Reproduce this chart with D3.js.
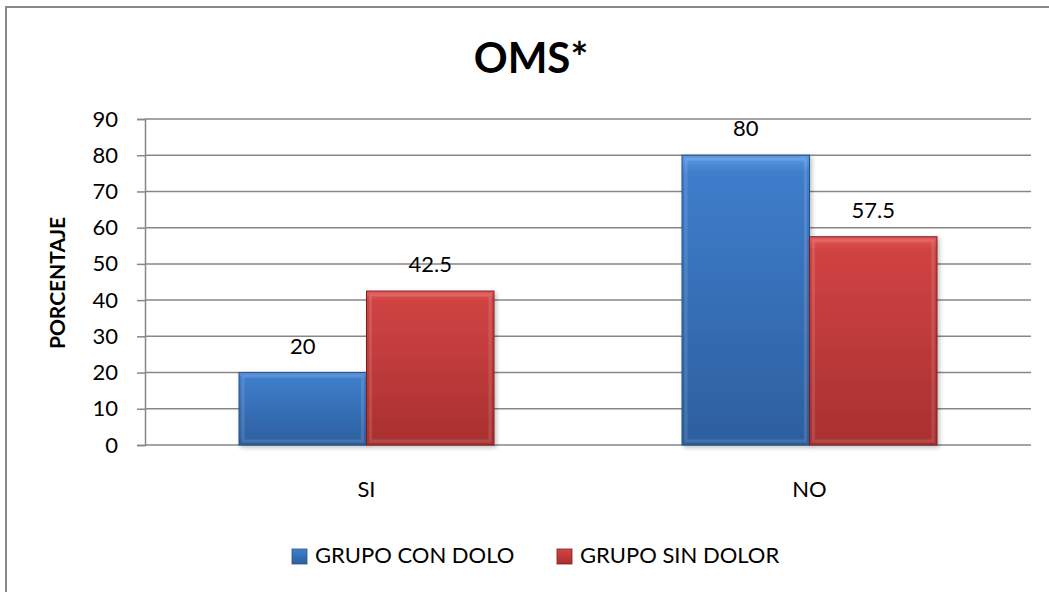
<!DOCTYPE html>
<html>
<head>
<meta charset="utf-8">
<script src="https://cdn.jsdelivr.net/npm/d3@7"></script>
<style>
  body { margin: 0; background: #fff; }
  svg { display: block; font-family: Lato, "Open Sans", sans-serif; }
</style>
</head>
<body>
<div id="chart"></div>
<script>
const categories = ["SI", "NO"];
const seriesNames = ["GRUPO CON DOLO", "GRUPO SIN DOLOR"];
const conDolo = [20, 80];
const sinDolor = [42.5, 57.5];
const yTicks = [0, 10, 20, 30, 40, 50, 60, 70, 80, 90];

const width = 1049, height = 592;
const plotLeft = 145, plotRight = 1031, plotTop = 119, plotBottom = 445;

const svg = d3.select("#chart").append("svg")
    .attr("width", width)
    .attr("height", height);

const defs = svg.append("defs");
const palette = [
  { id: "gBlue", light: "#5c9be3", mid: "#3f7dcb", dark: "#2c5f9f", edge: "#24528c" },
  { id: "gRed", light: "#e35a5a", mid: "#d04343", dark: "#a93030", edge: "#7d1f1f" }
];
palette.forEach(p => {
  const g = defs.append("linearGradient").attr("id", p.id)
      .attr("x1", 0).attr("y1", 0).attr("x2", 0).attr("y2", 1);
  g.append("stop").attr("offset", "0%").attr("stop-color", p.light);
  g.append("stop").attr("offset", "6%").attr("stop-color", p.mid);
  g.append("stop").attr("offset", "100%").attr("stop-color", p.dark);
});
const shadow = defs.append("filter").attr("id", "shadow")
    .attr("x", "-10%").attr("y", "-10%").attr("width", "130%").attr("height", "130%");
shadow.append("feDropShadow").attr("dx", 2).attr("dy", 2)
    .attr("stdDeviation", 2).attr("flood-color", "#000").attr("flood-opacity", 0.25);

// outer frame
svg.append("rect")
    .attr("x", 6).attr("y", 7)
    .attr("width", width + 10).attr("height", height + 10)
    .attr("fill", "none").attr("stroke", "#888").attr("stroke-width", 2);

// title
svg.append("text")
    .attr("x", 531).attr("y", 73)
    .attr("text-anchor", "middle")
    .style("font-size", "42px").style("font-weight", "bold")
    .text("OMS*");

const x = d3.scaleBand().domain(categories).range([plotLeft, plotRight]);
const x1 = d3.scaleBand().domain(seriesNames).range([94, x.bandwidth() - 94]);
const y = d3.scaleLinear().domain([0, 90]).range([plotBottom, plotTop]);

// gridlines
svg.append("g").selectAll("line")
  .data(yTicks)
  .enter().append("line")
    .attr("x1", plotLeft).attr("x2", plotRight)
    .attr("y1", d => y(d)).attr("y2", d => y(d))
    .attr("stroke", "#878787").attr("stroke-width", 1.5);

// y axis
const yAxis = svg.append("g")
    .attr("transform", `translate(${plotLeft},0)`)
    .call(d3.axisLeft(y).tickValues(yTicks).tickSize(8).tickPadding(19));
yAxis.select(".domain").attr("stroke", "#878787").attr("stroke-width", 1.5);
yAxis.selectAll(".tick line").attr("stroke", "#878787").attr("stroke-width", 1.5);
yAxis.selectAll(".tick text")
    .style("font-size", "22px").style("font-family", "Lato, sans-serif").attr("fill", "#000");

svg.append("text")
    .attr("transform", "translate(65,283) rotate(-90)")
    .attr("text-anchor", "middle")
    .style("font-size", "21px").style("font-weight", "bold")
    .text("PORCENTAJE");

// category labels
svg.append("g").selectAll("text")
  .data(categories)
  .enter().append("text")
    .attr("x", d => x(d) + x.bandwidth() / 2)
    .attr("y", 497)
    .attr("text-anchor", "middle")
    .style("font-size", "22px")
    .text(d => d);

const rows = categories.map((c, i) => ({
  cat: c,
  values: [
    { s: seriesNames[0], v: conDolo[i], k: 0 },
    { s: seriesNames[1], v: sinDolor[i], k: 1 }
  ]
}));

const groups = svg.append("g").selectAll("g")
  .data(rows)
  .enter().append("g")
    .attr("transform", d => `translate(${x(d.cat)},0)`);

const bars = groups.selectAll("g.bar")
  .data(d => d.values)
  .enter().append("g").attr("class", "bar");

bars.append("rect")
    .attr("x", d => x1(d.s))
    .attr("y", d => y(d.v))
    .attr("width", x1.bandwidth())
    .attr("height", d => y(0) - y(d.v))
    .attr("fill", d => `url(#${palette[d.k].id})`)
    .attr("stroke", d => palette[d.k].edge)
    .attr("stroke-width", 1)
    .attr("filter", "url(#shadow)");

// bevel highlight
bars.append("rect")
    .attr("x", d => x1(d.s) + 4)
    .attr("y", d => y(d.v) + 4)
    .attr("width", x1.bandwidth() - 8)
    .attr("height", d => Math.max(0, y(0) - y(d.v) - 8))
    .attr("fill", "none")
    .attr("stroke", "#fff").attr("stroke-opacity", 0.12).attr("stroke-width", 3);

bars.append("text")
    .attr("x", d => x1(d.s) + x1.bandwidth() / 2)
    .attr("y", d => y(d.v) - 19)
    .attr("text-anchor", "middle")
    .style("font-size", "22px")
    .text(d => d.v);

// legend
const legendItems = [
  { name: seriesNames[0], k: 0, x: 292 },
  { name: seriesNames[1], k: 1, x: 557 }
];
const legend = svg.append("g").selectAll("g")
  .data(legendItems)
  .enter().append("g")
    .attr("transform", d => `translate(${d.x},549)`);
legend.append("rect")
    .attr("width", 15).attr("height", 15)
    .attr("fill", d => `url(#${palette[d.k].id})`)
    .attr("stroke", d => palette[d.k].edge).attr("stroke-width", 0.8);
legend.append("text")
    .attr("x", 23).attr("y", 14)
    .style("font-size", "22px")
    .text(d => d.name);
</script>
</body>
</html>
